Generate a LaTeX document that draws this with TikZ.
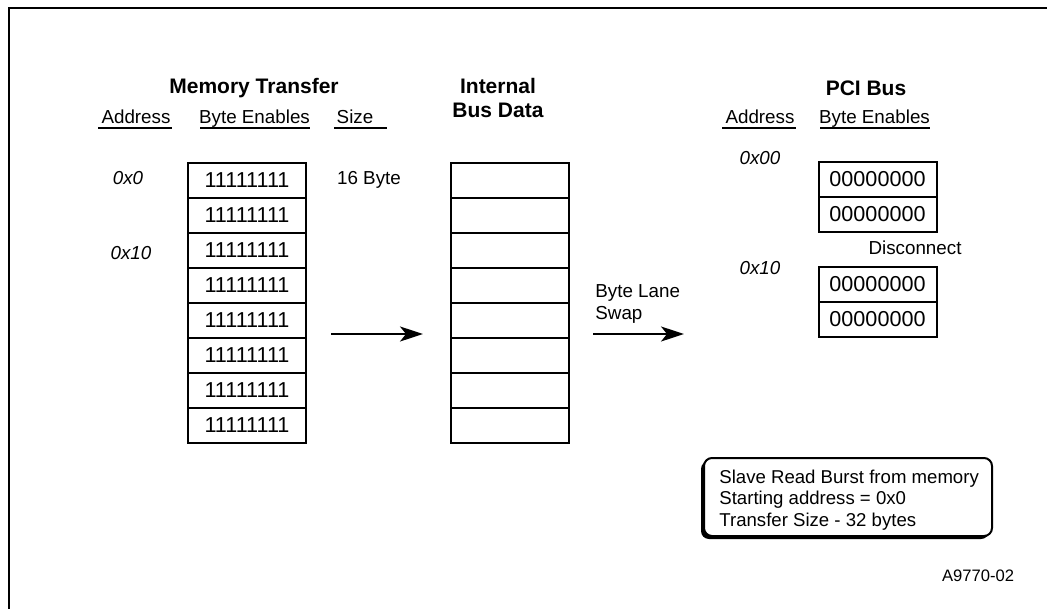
\documentclass[tikz,border=0pt]{standalone}
\usepackage{fontspec}
\setmainfont{Liberation Sans}
\usetikzlibrary{arrows.meta,positioning,shadows}
\tikzset{
  cell/.style={draw,line width=1pt,minimum width=59pt,minimum height=17.5pt,inner sep=0pt,outer sep=0pt,font=\fontsize{10.8}{12}\selectfont},
  title/.style={font=\fontsize{10.5}{10}\selectfont\bfseries,align=center,inner sep=0pt},
  label/.style={font=\fontsize{9.4}{11}\selectfont,inner sep=0pt,text height=1.6ex,text depth=.4ex},
  addr/.style={font=\fontsize{9.4}{11}\selectfont\itshape,inner sep=0pt,text height=1.6ex,text depth=.4ex},
  rule/.style={draw,line width=.6pt},
  flow/.style={-{Stealth[length=11.5pt,width=7.5pt,inset=3pt]},line width=1pt},
  note/.style={draw,fill=white,line width=1pt,rounded corners=4pt,minimum width=144pt,minimum height=39pt,inner sep=0pt,
    drop shadow={shadow xshift=-1.5pt,shadow yshift=-1.5pt,fill=black,opacity=1}},
  notetext/.style={font=\fontsize{9.3}{10.75}\selectfont,align=left,inner sep=0pt}
}
\begin{document}
\begin{tikzpicture}[x=0.5pt,y=-0.5pt]
  \useasboundingbox (0,0) rectangle (1047,609);
  % frame
  \draw[line width=1.2pt] (1047,8) -- (9,8) -- (9,609);

  % memory transfer
  \node[title] (memtitle) at (254,88) {Memory Transfer};
  \node[label] (memaddr) at (136,117) {Address};
  \node[label] (membe) at (254.5,117) {Byte Enables};
  \node[label] (memsize) at (355,117) {Size};
  \draw[rule] (98,128) -- (172,128);
  \draw[rule] (200,128) -- (310,128);
  \draw[rule] (334,128) -- (387,128);
  \node[addr] (a0) at (128,178) {0x0};
  \node[addr] (a10) at (131,253) {0x10};
  \node[label] (size) at (369,178) {16 Byte};

  \node[cell] (m1) at (247,180.5) {11111111};
  \foreach \i [count=\j from 2] in {1,...,7}
    \node[cell,below=0pt of m\i] (m\j) {11111111};

  % internal bus
  \node[title] (bustitle) at (498,98) {Internal\\[2pt]Bus Data};
  \node[cell] (b1) at (510,180.5) {};
  \foreach \i [count=\j from 2] in {1,...,7}
    \node[cell,below=0pt of b\i] (b\j) {};

  \coordinate (flowAin) at (331,334);
  \coordinate (flowAout) at (423,334);
  \draw[flow] (flowAin) -- (flowAout);

  \node[label,align=left,anchor=west,text height=,text depth=] (swap) at (595,304) {Byte Lane\\Swap};
  \coordinate (flowBin) at (593,334);
  \coordinate (flowBout) at (684,334);
  \draw[flow] (flowBin) -- (flowBout);

  % pci bus
  \node[title] (pcititle) at (866,88) {PCI Bus};
  \node[label] (pciaddr) at (760,117) {Address};
  \node[label] (pcibe) at (874.5,117) {Byte Enables};
  \draw[rule] (722,128) -- (796,128);
  \draw[rule] (820,128) -- (930,128);
  \node[addr] (p00) at (760,158) {0x00};
  \node[addr] (p10) at (760,268) {0x10};

  \node[cell] (p1) at (877.5,179.5) {00000000};
  \node[cell,below=0pt of p1] (p2) {00000000};
  \node[label] (disc) at (915,248) {Disconnect};
  \node[cell] (p3) at (877.5,284.5) {00000000};
  \node[cell,below=0pt of p3] (p4) {00000000};

  % note
  \node[note] (info) at (848,497) {};
  \node[notetext,anchor=west] (infotext) at (719,500) {Slave Read Burst from memory\\Starting address = 0x0\\Transfer Size - 32 bytes};
  \node[label,font=\fontsize{8.3}{10}\selectfont] (fig) at (978,575) {A9770-02};
\end{tikzpicture}
\end{document}
